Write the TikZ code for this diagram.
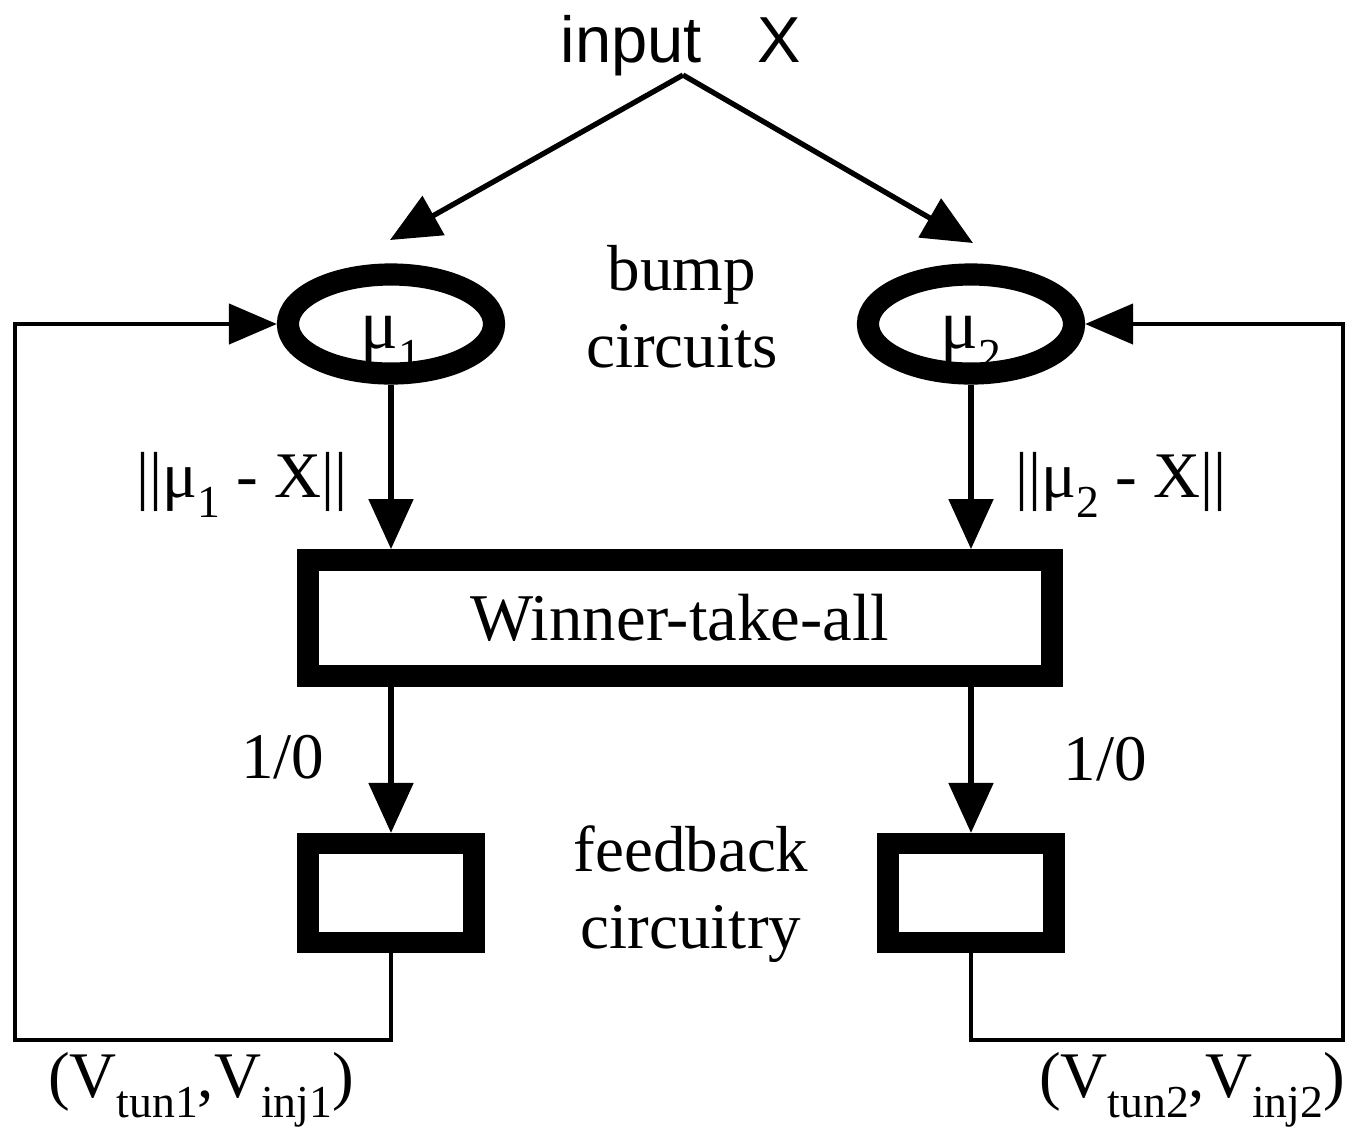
\documentclass[tikz,border=0pt]{standalone}
\usepackage{fontspec}
\setmainfont{Liberation Serif}
\newfontfamily\inputsans{Liberation Sans}
\usepackage{tikz}
\usetikzlibrary{arrows.meta,positioning,shapes.geometric}
\newcommand{\lowsub}[1]{\raisebox{-0.32em}{\fontsize{13}{13}\selectfont #1}}
\tikzset{
  bump cell/.style={ellipse,draw,line width=6.3pt,minimum width=2.06cm,minimum height=0.99cm,inner sep=0pt,font=\fontsize{20}{22}\selectfont},
  wta block/.style={rectangle,draw,line width=6.2pt,minimum width=7.44cm,minimum height=1.16cm,inner sep=0pt,font=\fontsize{19}{22}\selectfont},
  fb block/.style={rectangle,draw,line width=6pt,minimum width=1.66cm,minimum height=0.99cm,inner sep=0pt},
  sig arrow/.style={-{Triangle[length=0.5cm,width=0.44cm]},line width=1.5pt},
  fb wire/.style={-{Triangle[length=0.48cm,width=0.4cm]},line width=1.3pt},
  txt/.style={inner sep=0pt,font=\fontsize{18.5}{22}\selectfont,align=center}
}
\begin{document}
\begin{tikzpicture}[x=0.01cm,y=-0.01cm]
  \useasboundingbox (0,0) rectangle (1350,1126);
  \node[txt,anchor=base,font=\inputsans\fontsize{18.5}{22}\selectfont] (input) at (681,62) {input\ \hspace{0.58em}X};
  \coordinate (split) at (683,75);
  \coordinate (tip1) at (390,240);
  \coordinate (tip2) at (973,243);
  \node[bump cell] (mu1) at (391,324) {\raisebox{-0.24cm}[0pt][0pt]{μ\lowsub{1}}};
  \node[bump cell] (mu2) at (971,324) {\raisebox{-0.24cm}[0pt][0pt]{μ\lowsub{2}}};
  \node[txt] (bumplbl) at (682,307) {bump\\circuits};
  \node[wta block] (wta) at (680,618) {Winner-take-all};
  \node[fb block] (fb1) at (391,893) {};
  \node[fb block] (fb2) at (971,893) {};
  \node[txt] (fblbl) at (691,894) {feedback\\circuitry};
  \node[txt,anchor=base east] (d1) at (348,497) {||μ\lowsub{1} - X||};
  \node[txt,anchor=base west] (d2) at (1015,497) {||μ\lowsub{2} - X||};
  \node[txt,anchor=base east] (w1) at (325,778) {1/0};
  \node[txt,anchor=base west] (w2) at (1063,780) {1/0};
  \coordinate (c1) at (15,1040);
  \coordinate (c2) at (1343,1040);
  \node[txt,anchor=base] (v1) at (201,1097) {(V\lowsub{tun1},V\lowsub{inj1})};
  \node[txt,anchor=base] (v2) at (1192,1097) {(V\lowsub{tun2},V\lowsub{inj2})};
  \draw[sig arrow] (split) -- (tip1);
  \draw[sig arrow] (split) -- (tip2);
  \draw[sig arrow] (mu1.south) -- (mu1.south |- wta.north);
  \draw[sig arrow] (mu2.south) -- (mu2.south |- wta.north);
  \draw[sig arrow] (wta.south -| fb1.north) -- (fb1.north);
  \draw[sig arrow] (wta.south -| fb2.north) -- (fb2.north);
  \draw[fb wire] (fb1.south) |- (c1) |- (mu1.west);
  \draw[fb wire] (fb2.south) |- (c2) |- (mu2.east);
\end{tikzpicture}
\end{document}
